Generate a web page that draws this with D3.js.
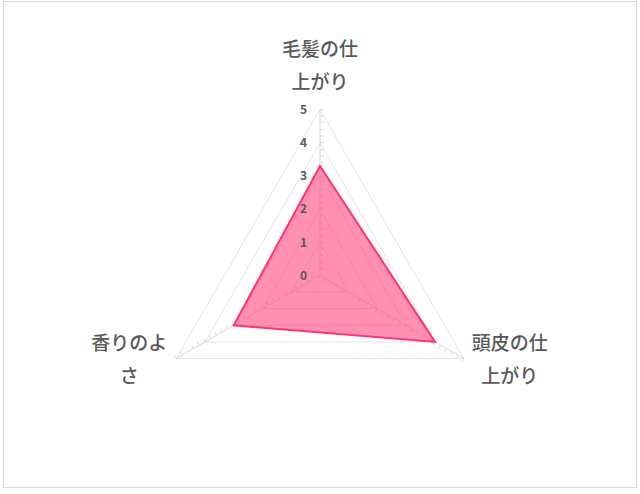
<!DOCTYPE html>
<html>
<head>
<meta charset="utf-8">
<script src="https://cdn.jsdelivr.net/npm/d3@7"></script>
<style>
  body { margin: 0; background: #fff; }
  text { font-family: "Noto Sans CJK JP", "Noto Sans", sans-serif; }
</style>
</head>
<body>
<div id="radar"></div>
<script>
    // datos del grafico
    var categories = ["毛髪の仕上がり", "頭皮の仕上がり", "香りのよさ"];
    var values = [3.3, 4.0, 3.0];
    var tickValues = [0, 1, 2, 3, 4, 5];

    var width = 640, height = 494;
    var cx = 320, cy = 275.5, R = 166;

    var svg = d3.select("#radar")
      .append("svg")
        .attr("width", width)
        .attr("height", height);

    // borde del area del grafico
    svg.append("rect")
        .attr("x", 3.5).attr("y", 1.5)
        .attr("width", 633).attr("height", 486)
        .attr("fill", "none")
        .attr("stroke", "#d9d9d9")
        .attr("stroke-width", 1);

    var r = d3.scaleLinear().domain([0, 5]).range([0, R]);
    var angle = d3.scaleLinear().domain([0, categories.length]).range([-Math.PI / 2, 3 * Math.PI / 2]);

    function pt(i, v) {
      var a = angle(i);
      return [cx + Math.cos(a) * r(v), cy + Math.sin(a) * r(v)];
    }

    var g = svg.append("g");

    // rejilla triangular
    g.selectAll(".grid")
      .data(tickValues.filter(function(t) { return t > 0; }))
      .enter()
      .append("polygon")
        .attr("points", function(t) {
          return categories.map(function(c, i) { return pt(i, t).join(","); }).join(" ");
        })
        .attr("fill", "none")
        .attr("stroke", "#e3e3e3")
        .attr("stroke-width", 1);

    // ejes radiales
    g.selectAll(".axis")
      .data(categories)
      .enter()
      .append("line")
        .attr("x1", cx).attr("y1", cy)
        .attr("x2", function(d, i) { return pt(i, 5)[0]; })
        .attr("y2", function(d, i) { return pt(i, 5)[1]; })
        .attr("stroke", "#d9d9d9")
        .attr("stroke-width", 1);

    // marcas menores cada 0.2
    var minor = d3.range(1, 26).map(function(k) { return k / 5; });
    categories.forEach(function(c, i) {
      var a = angle(i);
      var px = -Math.sin(a), py = Math.cos(a);
      g.selectAll(".minor" + i)
        .data(minor)
        .enter()
        .append("line")
          .attr("x1", function(v) { return pt(i, v)[0]; })
          .attr("y1", function(v) { return pt(i, v)[1]; })
          .attr("x2", function(v) { return pt(i, v)[0] + px * 4; })
          .attr("y2", function(v) { return pt(i, v)[1] + py * 4; })
          .attr("stroke", "#d9d9d9")
          .attr("stroke-width", 1);
    });

    // area de la serie
    var line = d3.line().curve(d3.curveLinearClosed);
    g.append("path")
      .datum(values.map(function(v, i) { return pt(i, v); }))
        .attr("d", line)
        .attr("fill", "#ff3f78")
        .attr("fill-opacity", 0.58)
        .attr("stroke", "#ff3370")
        .attr("stroke-width", 2)
        .attr("stroke-linejoin", "miter");

    // etiquetas de la escala
    g.selectAll(".tick")
      .data(tickValues)
      .enter()
      .append("text")
        .attr("x", cx - 13)
        .attr("y", function(t) { return cy - r(t); })
        .attr("dy", "0.35em")
        .attr("text-anchor", "end")
        .attr("font-size", 12)
        .attr("font-weight", "bold")
        .attr("fill", "#595959")
        .text(function(t) { return t; });

    // etiquetas de categoria (4 caracteres por linea)
    function wrap(s) {
      var out = [];
      for (var k = 0; k < s.length; k += 4) out.push(s.slice(k, k + 4));
      return out;
    }
    var lineH = 33;
    categories.forEach(function(c, i) {
      var e = pt(i, 5), a = angle(i);
      var lx, ly;
      if (Math.abs(Math.cos(a)) < 0.1) { lx = e[0]; ly = e[1] - 44; }
      else { lx = e[0] + (Math.cos(a) > 0 ? 46 : -47); ly = e[1] + 1.5; }
      var lines = wrap(c);
      var t = svg.append("text")
        .attr("text-anchor", "middle")
        .attr("font-size", 19)
        .attr("font-weight", "500")
        .attr("fill", "#595959");
      lines.forEach(function(l, k) {
        t.append("tspan")
          .attr("x", lx)
          .attr("y", ly + (k - (lines.length - 1) / 2) * lineH)
          .attr("dy", "0.35em")
          .text(l);
      });
    });
</script>
</body>
</html>
